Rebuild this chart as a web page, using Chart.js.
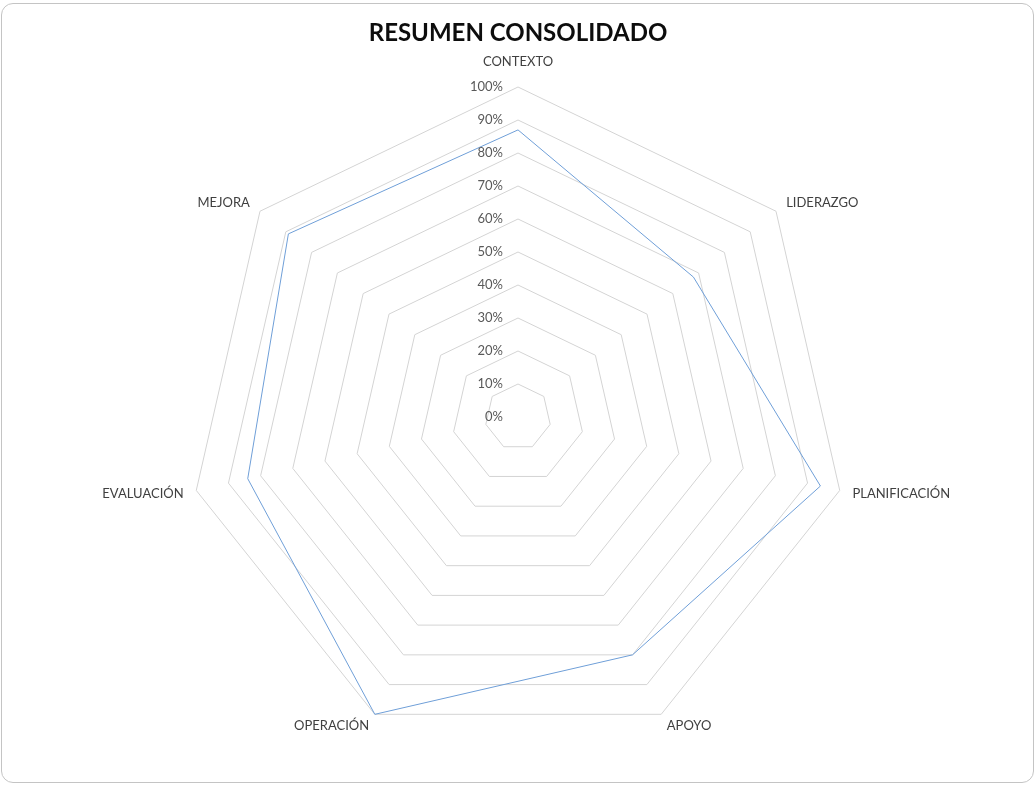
<!DOCTYPE html>
<html>
<head>
<meta charset="utf-8">
<script src="https://cdn.jsdelivr.net/npm/chart.js@4.4.0/dist/chart.umd.min.js"></script>
<style>
  html, body { margin: 0; padding: 0; background: #fff; }
  #wrap { position: relative; width: 1035px; height: 785px; }
  #frame {
    position: absolute; left: 1px; top: 3px; width: 1033px; height: 780px;
    box-sizing: border-box; border: 1px solid #c4c4c4; border-radius: 12px;
    pointer-events: none;
  }
</style>
</head>
<body>
<div id="wrap">
  <canvas id="radar" width="1035" height="785"></canvas>
  <div id="frame"></div>
</div>
<script>
const categories = ['CONTEXTO', 'LIDERAZGO', 'PLANIFICACIÓN', 'APOYO', 'OPERACIÓN', 'EVALUACIÓN', 'MEJORA'];
const scores = [87, 68, 94, 80, 100, 84, 89];
const tickValues = [0, 10, 20, 30, 40, 50, 60, 70, 80, 90, 100];
const tickLabels = ['0%', '10%', '20%', '30%', '40%', '50%', '60%', '70%', '80%', '90%', '100%'];

// excel puts the % labels left of the top spoke and the category names just outside the vertices
const excelLabels = {
  id: 'excelLabels',
  afterDatasetsDraw(chart) {
    const s = chart.scales.r;
    const ctx = chart.ctx;
    ctx.save();
    ctx.font = '13px Lato';
    ctx.fillStyle = '#595959';
    ctx.textAlign = 'right';
    ctx.textBaseline = 'middle';
    tickValues.forEach((v, i) => {
      const p = s.getPointPositionForValue(0, v);
      ctx.fillText(tickLabels[i], p.x - 15, p.y);
    });

    ctx.fillStyle = '#404040';
    categories.forEach((c, i) => {
      const p = s.getPointPosition(i, s.drawingArea + 13);
      if (Math.abs(p.x - s.xCenter) < 1) {
        ctx.textAlign = 'center';
        ctx.fillText(c, p.x, s.yCenter - s.drawingArea - 25);
      } else {
        ctx.textAlign = p.x > s.xCenter ? 'left' : 'right';
        ctx.fillText(c, p.x, p.y);
      }
    });
    ctx.restore();
  }
};

const ctx = document.getElementById('radar').getContext('2d');
new Chart(ctx, {
  type: 'radar',
  data: {
    labels: categories,
    datasets: [{
      label: 'Resumen',
      data: scores,
      borderColor: '#6f9fd8',
      borderWidth: 1,
      backgroundColor: 'transparent',
      fill: false,
      pointRadius: 0,
      tension: 0
    }]
  },
  options: {
    responsive: false,
    animation: false,
    layout: { padding: { left: 118, right: 117, top: 0, bottom: 38 } },
    plugins: {
      legend: { display: false },
      tooltip: { enabled: false },
      title: {
        display: true,
        text: 'RESUMEN CONSOLIDADO',
        color: '#0d0d0d',
        font: { family: 'Lato', size: 24, weight: 'bold' },
        padding: { top: 18.6, bottom: 39.6 }
      }
    },
    scales: {
      r: {
        min: 0,
        max: 100,
        ticks: { stepSize: 10, display: false },
        angleLines: { display: false },
        grid: { color: '#d4d4d4', lineWidth: 1, circular: false },
        pointLabels: { display: false }
      }
    }
  },
  plugins: [excelLabels]
});
</script>
</body>
</html>
